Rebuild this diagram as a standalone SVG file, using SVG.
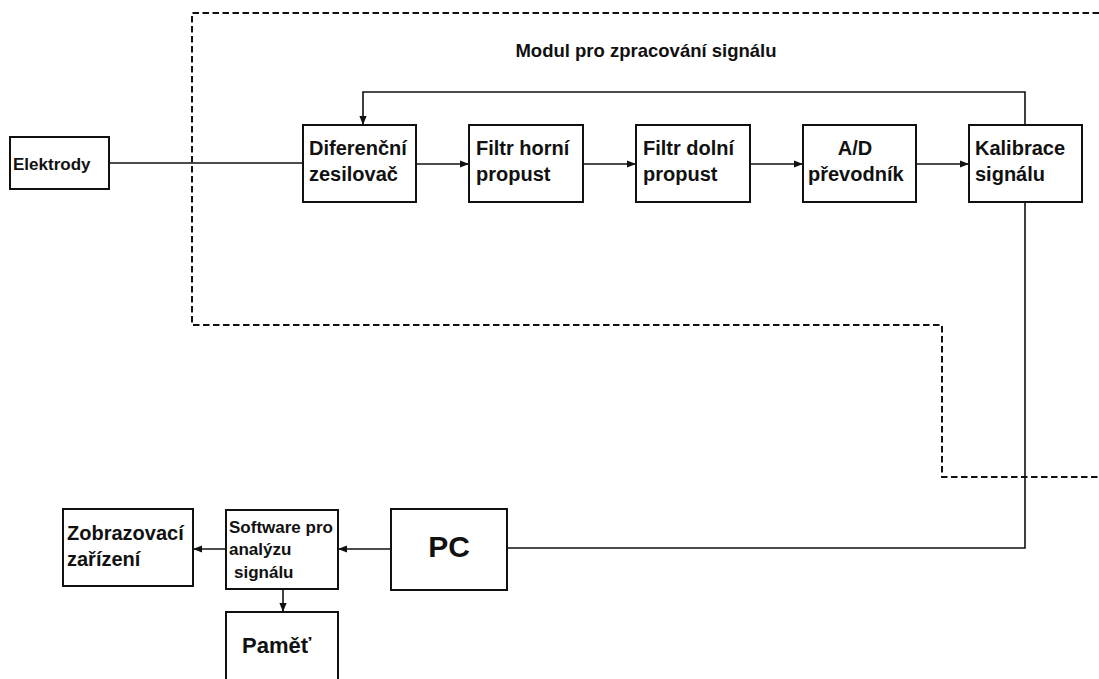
<svg xmlns="http://www.w3.org/2000/svg" width="1099" height="679" viewBox="0 0 1099 679">
  <style>
    .box { fill: #fff; stroke: #111; stroke-width: 2; }
    .wire { fill: none; stroke: #111; stroke-width: 1.6; }
    .dash { fill: none; stroke: #111; stroke-width: 2; stroke-dasharray: 6.5 3.5; }
    text { font-family: "Liberation Sans", Arial, sans-serif; font-weight: bold; fill: #111; }
    .t20 { font-size: 20px; }
    .t17 { font-size: 17px; }
  </style>
  <defs>
    <marker id="arrow" viewBox="0 0 10 10" refX="10" refY="5" markerWidth="9" markerHeight="9" markerUnits="userSpaceOnUse" orient="auto">
      <path d="M0,1 L10,5 L0,9 Z" fill="#111"/>
    </marker>
  </defs>
  <rect width="1099" height="679" fill="#fff"/>

  <!-- module boundary -->
  <g id="module-boundary">
    <path class="dash" d="M1099,13 H192 V325 H942 V477 H1099"/>
    <text x="646" y="57" text-anchor="middle" font-size="18.5">Modul pro zpracování signálu</text>
  </g>

  <!-- connectors -->
  <g id="connectors">
    <path class="wire" d="M109,163 H303"/>
    <path class="wire" d="M416,164 H469" marker-end="url(#arrow)"/>
    <path class="wire" d="M583,164 H636" marker-end="url(#arrow)"/>
    <path class="wire" d="M750,164 H803" marker-end="url(#arrow)"/>
    <path class="wire" d="M916,164 H969" marker-end="url(#arrow)"/>
    <path class="wire" d="M1025,125 V92 H363 V125" marker-end="url(#arrow)"/>
    <path class="wire" d="M1025,202 V548 H507"/>
    <path class="wire" d="M391,549 H338" marker-end="url(#arrow)"/>
    <path class="wire" d="M226,549 H193" marker-end="url(#arrow)"/>
    <path class="wire" d="M283,589 V612" marker-end="url(#arrow)"/>
  </g>

  <g id="elektrody">
    <rect class="box" x="10" y="137" width="99" height="52"/>
    <text class="t17" x="13" y="170">Elektrody</text>
  </g>
  <g id="diferencni-zesilovac">
    <rect class="box" x="303" y="125" width="113" height="77"/>
    <text class="t20" x="309" y="155">Diferenční</text>
    <text class="t20" x="309" y="181">zesilovač</text>
  </g>
  <g id="filtr-horni-propust">
    <rect class="box" x="469" y="125" width="114" height="77"/>
    <text class="t20" x="476" y="155">Filtr horní</text>
    <text class="t20" x="476" y="181">propust</text>
  </g>
  <g id="filtr-dolni-propust">
    <rect class="box" x="636" y="125" width="114" height="77"/>
    <text class="t20" x="643" y="155">Filtr dolní</text>
    <text class="t20" x="643" y="181">propust</text>
  </g>
  <g id="ad-prevodnik">
    <rect class="box" x="803" y="125" width="113" height="77"/>
    <text class="t20" x="855" y="155" text-anchor="middle">A/D</text>
    <text class="t20" x="808" y="181">převodník</text>
  </g>
  <g id="kalibrace-signalu">
    <rect class="box" x="969" y="125" width="113" height="77"/>
    <text class="t20" x="975" y="155">Kalibrace</text>
    <text class="t20" x="975" y="181">signálu</text>
  </g>

  <g id="pc">
    <rect class="box" x="391" y="509" width="116" height="81"/>
    <text x="449" y="557" text-anchor="middle" font-size="30">PC</text>
  </g>
  <g id="software">
    <rect class="box" x="226" y="510" width="112" height="79"/>
    <text class="t17" x="229" y="533">Software pro</text>
    <text class="t17" x="229" y="555">analýzu</text>
    <text class="t17" x="234" y="578">signálu</text>
  </g>
  <g id="zobrazovaci-zarizeni">
    <rect class="box" x="63" y="509" width="130" height="77"/>
    <text class="t20" x="67" y="540">Zobrazovací</text>
    <text class="t20" x="67" y="566">zařízení</text>
  </g>
  <g id="pamet">
    <rect class="box" x="226" y="612" width="112" height="80"/>
    <text x="242" y="653" font-size="22">Paměť</text>
  </g>
</svg>
